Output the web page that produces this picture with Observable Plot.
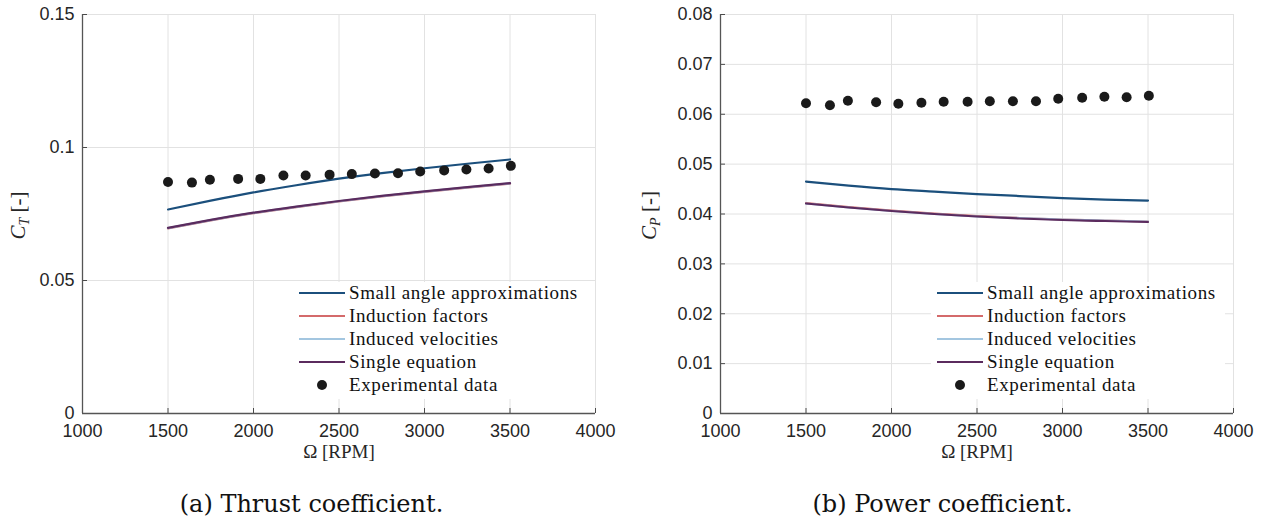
<!DOCTYPE html>
<html>
<head>
<meta charset="utf-8">
<script src="https://cdn.jsdelivr.net/npm/d3@7"></script>
<script src="https://cdn.jsdelivr.net/npm/@observablehq/plot@0.6"></script>
<style>
  html, body { margin: 0; padding: 0; background: #fff; }
  #wrap { position: relative; width: 1262px; height: 523px; overflow: hidden; }
  .panel { position: absolute; top: 0; width: 631px; }
  .caption { width: 631px; text-align: center; font-family: "DejaVu Serif", serif; font-size: 24px; color: #111; height: 48px; line-height: 48px; margin-top: 5px; text-indent: -8px; }
  svg text.leg { font-family: "Liberation Serif", serif; font-size: 19px; letter-spacing: 0.6px; text-anchor: start; }
</style>
</head>
<body>
<div id="wrap">
  <div class="panel" id="pA" style="left:0"></div>
  <div class="panel" id="pB" style="left:631px"></div>
</div>
<script>
// ---------- data ----------
const xTicks = [1000, 1500, 2000, 2500, 3000, 3500, 4000];
const ctTicks = [0, 0.05, 0.1, 0.15];
const ctTickLabels = ["0", "0.05", "0.1", "0.15"];
const cpTicks = [0, 0.01, 0.02, 0.03, 0.04, 0.05, 0.06, 0.07, 0.08];
const cpTickLabels = ["0", "0.01", "0.02", "0.03", "0.04", "0.05", "0.06", "0.07", "0.08"];

const rpmExp = [1500, 1640, 1745, 1910, 2040, 2175, 2305, 2445, 2575, 2710, 2845, 2975, 3115, 3245, 3375, 3505];
const ctExp = [0.0870, 0.0868, 0.0879, 0.0882, 0.0882, 0.0895, 0.0895, 0.0898, 0.0900, 0.0902, 0.0903, 0.0910, 0.0914, 0.0917, 0.0921, 0.0931];
const cpExp = [0.0622, 0.0618, 0.0627, 0.0624, 0.0621, 0.0623, 0.0625, 0.0625, 0.0626, 0.0626, 0.0626, 0.0631, 0.0633, 0.0635, 0.0634, 0.0637];

const rpmModel = [1500, 1750, 2000, 2250, 2500, 2750, 3000, 3250, 3500];
const ctSmall     = [0.0767, 0.0800, 0.0831, 0.0858, 0.0883, 0.0904, 0.0922, 0.0939, 0.0955];
const ctInduction = [0.0696, 0.0726, 0.0753, 0.0776, 0.0797, 0.0816, 0.0833, 0.0849, 0.0864];
const ctInduced   = [0.0697, 0.0727, 0.0754, 0.0777, 0.0798, 0.0817, 0.0834, 0.0850, 0.0865];
const ctSingle    = [0.0698, 0.0728, 0.0755, 0.0778, 0.0799, 0.0818, 0.0835, 0.0851, 0.0866];
const cpSmall     = [0.0465, 0.0457, 0.0450, 0.0445, 0.0440, 0.0436, 0.0432, 0.0429, 0.0427];
const cpInduction = [0.0422, 0.0414, 0.0407, 0.0401, 0.0396, 0.0392, 0.0389, 0.0387, 0.0385];
const cpInduced   = [0.0421, 0.0413, 0.0406, 0.0400, 0.0395, 0.0392, 0.0389, 0.0387, 0.0385];
const cpSingle    = [0.0421, 0.0413, 0.0406, 0.0400, 0.0395, 0.0391, 0.0388, 0.0386, 0.0384];

const seriesNames = ["Small angle approximations", "Induction factors", "Induced velocities", "Single equation"];
const seriesColors = ["#1b4f7c", "#d46a6b", "#a3c6e0", "#5b2b5e"];
const expName = "Experimental data";
const xLabel = "Ω [RPM]";
const captions = ["(a) Thrust coefficient.", "(b) Power coefficient."];

// ---------- drawing ----------
const W = 631, H = 475, MT = 14, MB = 62;
const sans = "'Liberation Sans', Arial, sans-serif";
const serif = "'Liberation Serif', serif";

function makeChart(el, opts) {
  const {ymax, yTicks, yLabels, exp, models, sub, ml, mr, caption} = opts;
  const plotW = W - ml - mr, plotH = H - MT - MB;
  const modelData = models.flatMap((vals, i) => vals.map((v, j) => ({x: rpmModel[j], y: v, s: i})));
  const expData = rpmExp.map((r, i) => ({x: r, y: exp[i]}));
  const svg = Plot.plot({
    width: W, height: H,
    marginLeft: ml, marginRight: mr, marginTop: MT, marginBottom: MB,
    x: {domain: [1000, 4000]},
    y: {domain: [0, ymax]},
    style: {background: "#fff", overflow: "visible"},
    marks: [
      Plot.gridX(xTicks, {stroke: "#e2e2e2", strokeOpacity: 1}),
      Plot.gridY(yTicks, {stroke: "#e2e2e2", strokeOpacity: 1}),
      Plot.tickX(xTicks, {x: d => d, insetTop: plotH - 5, stroke: "#4a4a4a"}),
      Plot.tickY(yTicks, {y: d => d, insetRight: plotW - 5, stroke: "#4a4a4a"}),
      Plot.ruleX([1000], {stroke: "#555", strokeWidth: 1.3}),
      Plot.ruleY([0], {stroke: "#555", strokeWidth: 1.3}),
      Plot.axisX({ticks: xTicks, tickSize: 0, tickPadding: 11, fontSize: 18, fontFamily: sans, fill: "#262626", label: null, tickFormat: d => String(d)}),
      Plot.axisY({ticks: yTicks, tickSize: 0, tickPadding: 8, fontSize: 18, fontFamily: sans, fill: "#262626", label: null, tickFormat: d => yLabels[yTicks.indexOf(d)]}),
      ...[0, 1, 2, 3].map(i => Plot.line(modelData.filter(d => d.s === i), {x: "x", y: "y", stroke: seriesColors[i], strokeWidth: 2.2, curve: "natural"})),
      Plot.dot(expData, {x: "x", y: "y", r: 5, fill: "#1a1a1a", stroke: "none"}),
      Plot.text([xLabel], {frameAnchor: "bottom", dy: 44, fontSize: 19, fontFamily: serif, fill: "#262626"})
    ]
  });
  const s = d3.select(svg);
  // y label with subscript
  const yl = s.append("text")
    .attr("transform", `translate(25,${MT + plotH / 2 + 2}) rotate(-90)`)
    .attr("text-anchor", "middle")
    .attr("font-family", serif).attr("font-size", 21).attr("fill", "#262626");
  yl.append("tspan").attr("font-style", "italic").text("C");
  yl.append("tspan").attr("font-style", "italic").attr("font-size", 14).attr("dy", 4).text(sub);
  yl.append("tspan").attr("dy", -4).text(" [-]");
  // legend
  const lg = s.append("g").attr("transform", `translate(${ml},0)`);
  lg.append("rect").attr("x", 211).attr("y", 282).attr("width", 294).attr("height", 117).attr("fill", "#fff");
  const rowY = [293, 316, 339, 362, 385];
  seriesNames.forEach((n, i) => {
    lg.append("line").attr("x1", 217).attr("x2", 263).attr("y1", rowY[i]).attr("y2", rowY[i])
      .attr("stroke", seriesColors[i]).attr("stroke-width", 2.2);
    lg.append("text").attr("class", "leg").attr("text-anchor", "start").attr("x", 267).attr("y", rowY[i]).attr("dy", "0.33em").attr("fill", "#111").text(n);
  });
  lg.append("circle").attr("cx", 240).attr("cy", rowY[4]).attr("r", 5).attr("fill", "#1a1a1a");
  lg.append("text").attr("class", "leg").attr("text-anchor", "start").attr("x", 267).attr("y", rowY[4]).attr("dy", "0.33em").attr("fill", "#111").text(expName);
  el.appendChild(svg);
  const cap = document.createElement("div");
  cap.className = "caption";
  cap.textContent = caption;
  el.appendChild(cap);
}

makeChart(document.getElementById("pA"), {
  ymax: 0.15, yTicks: ctTicks, yLabels: ctTickLabels, exp: ctExp,
  models: [ctSmall, ctInduction, ctInduced, ctSingle], sub: "T", ml: 82, mr: 36, caption: captions[0]
});
makeChart(document.getElementById("pB"), {
  ymax: 0.08, yTicks: cpTicks, yLabels: cpTickLabels, exp: cpExp,
  models: [cpSmall, cpInduction, cpInduced, cpSingle], sub: "P", ml: 89, mr: 29, caption: captions[1]
});
</script>
</body>
</html>
